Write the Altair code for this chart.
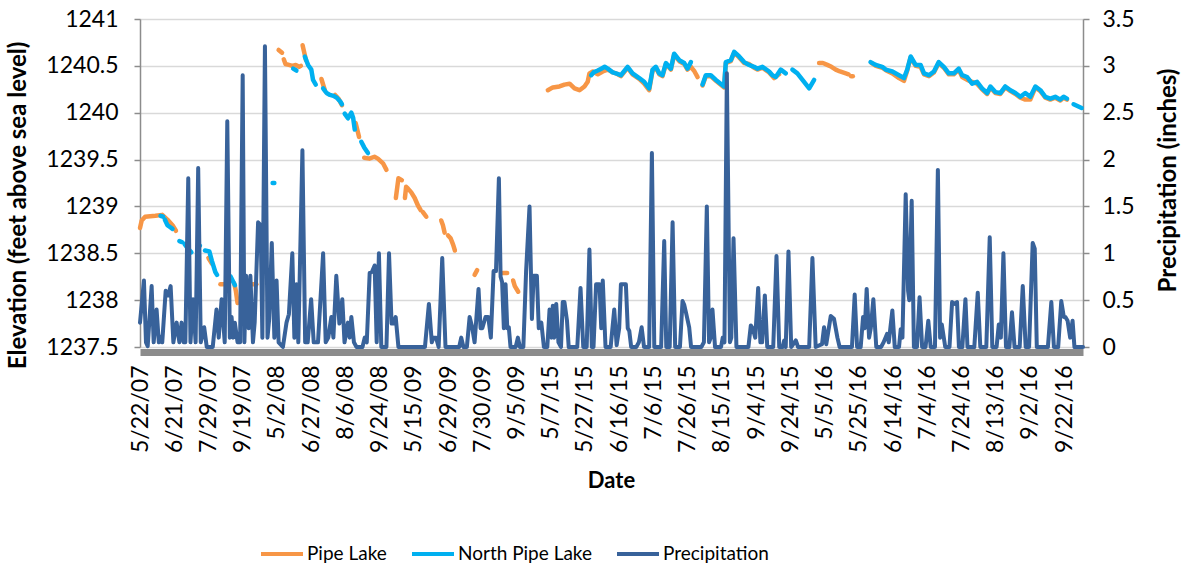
import altair as alt
import pandas as pd

# ---------------- data ----------------
x_tick_labels = ["5/22/07", "6/21/07", "7/29/07", "9/19/07", "5/2/08", "6/27/08", "8/6/08",
                 "9/24/08", "5/15/09", "6/29/09", "7/30/09", "9/5/09", "5/7/15", "5/27/15",
                 "6/16/15", "7/6/15", "7/26/15", "8/15/15", "9/4/15", "9/24/15", "5/5/16",
                 "5/25/16", "6/14/16", "7/4/16", "7/24/16", "8/13/16", "9/2/16", "9/22/16"]
label_step = 20          # categories between labelled dates
last_index = 551         # index of last category

series_names = ["Pipe Lake", "North Pipe Lake", "Precipitation"]
series_colors = ["#F79646", "#00B0F0", "#38629A"]

# (category index, elevation) ; each inner list is one unbroken run
pipe_lake_segments = [
    [(0, 1238.77), (1, 1238.85), (3, 1238.89), (9, 1238.90), (13, 1238.91), (16, 1238.86), (19, 1238.80), (21, 1238.74)],
    [(40, 1238.45), (42, 1238.39)],
    [(47, 1238.17), (50, 1238.17)],
    [(55, 1238.18), (56, 1238.10), (57, 1237.97)],
    [(64, 1238.17), (68, 1238.17)],
    [(81, 1240.67), (83, 1240.64)],
    [(84, 1240.57), (85, 1240.52), (87, 1240.51), (89, 1240.50), (91, 1240.51), (93, 1240.49), (94, 1240.50)],
    [(95, 1240.72), (96, 1240.64), (97, 1240.56)],
    [(106, 1240.36), (108, 1240.24)],
    [(114, 1240.19), (116, 1240.15), (118, 1240.08)],
    [(126, 1239.89), (128, 1239.74)],
    [(131, 1239.52), (134, 1239.51), (137, 1239.53), (139, 1239.51), (142, 1239.46), (144, 1239.39)],
    [(149.5, 1239.09), (151, 1239.30), (153, 1239.28)],
    [(154.8, 1239.09), (155.5, 1239.21), (156.6, 1239.19), (158.5, 1239.15), (160.5, 1239.09), (162.4, 1239.01), (164, 1238.96)],
    [(165.3, 1238.94), (167.3, 1238.89)],
    [(176, 1238.85), (177, 1238.80), (178, 1238.72)],
    [(180, 1238.69), (181.5, 1238.66), (183, 1238.59), (184, 1238.53)],
    [(195.5, 1238.27), (197, 1238.32)],
    [(212, 1238.29), (214.5, 1238.29)],
    [(218, 1238.21), (219, 1238.15), (221, 1238.09)],
    [(238.3, 1240.24), (241.2, 1240.27), (245.1, 1240.28), (248, 1240.30), (251, 1240.31), (253.9, 1240.26),
     (256.8, 1240.24), (259.7, 1240.28), (261.6, 1240.33), (262.6, 1240.42), (264.6, 1240.44), (267.5, 1240.41),
     (270.4, 1240.44), (273.3, 1240.46), (276.2, 1240.43), (278.1, 1240.42), (281, 1240.39), (284.9, 1240.48),
     (287.8, 1240.41), (291.7, 1240.36), (294.6, 1240.31), (297.5, 1240.24), (299.5, 1240.45), (301.4, 1240.48),
     (303.4, 1240.41), (305.3, 1240.39), (307.3, 1240.52), (310.2, 1240.46), (312.1, 1240.62), (315.1, 1240.55),
     (318, 1240.52), (319.9, 1240.46), (321.9, 1240.49), (324, 1240.44), (325.8, 1240.38)],
    [(328.7, 1240.29), (330.6, 1240.39), (333.5, 1240.39), (336.5, 1240.34), (341.3, 1240.27), (342.3, 1240.53),
     (345.2, 1240.55), (347.2, 1240.64), (350.1, 1240.59), (353, 1240.53), (355.9, 1240.52), (358.8, 1240.48),
     (360.8, 1240.46), (363.7, 1240.48), (367.6, 1240.43), (370.5, 1240.37), (373.4, 1240.41)],
    [(396.8, 1240.53), (399, 1240.53), (401.6, 1240.51), (404, 1240.49), (406.5, 1240.46), (409, 1240.44),
     (412.4, 1240.42), (414, 1240.41)],
    [(415.5, 1240.39), (416.5, 1240.39)],
    [(427.5, 1240.53), (430, 1240.50), (433.7, 1240.48), (436, 1240.45), (439.6, 1240.42), (443.5, 1240.37),
     (446.4, 1240.34), (448.3, 1240.45), (450.3, 1240.59), (453.2, 1240.50), (456.1, 1240.49), (458.1, 1240.41),
     (461, 1240.39), (463.9, 1240.43), (466.7, 1240.53), (469.7, 1240.48), (472.6, 1240.41), (475.5, 1240.41),
     (478.4, 1240.46), (480.4, 1240.38), (483.3, 1240.35), (486.2, 1240.33), (489.1, 1240.31), (492, 1240.25),
     (495, 1240.20), (496.9, 1240.27), (499.8, 1240.21), (502.7, 1240.20), (505.6, 1240.27), (508.6, 1240.23),
     (511.5, 1240.20), (514.4, 1240.16), (517.3, 1240.14), (520.2, 1240.14), (523.2, 1240.27), (526.1, 1240.23),
     (529, 1240.16), (531.9, 1240.14), (534.8, 1240.16), (537.7, 1240.13), (539.7, 1240.16), (541.6, 1240.14)],
]

north_pipe_lake_segments = [
    [(12, 1238.90), (13.5, 1238.89)],
    [(14.5, 1238.86), (16, 1238.80), (17.5, 1238.78), (19, 1238.76)],
    [(23, 1238.63), (24.5, 1238.62)],
    [(26, 1238.60), (28, 1238.55), (30, 1238.51)],
    [(34, 1238.59), (35, 1238.58)],
    [(38, 1238.53), (40.5, 1238.52), (42, 1238.42), (44, 1238.30), (45, 1238.27)],
    [(53, 1238.25), (55.5, 1238.16)],
    [(77.5, 1239.25), (78.5, 1239.25)],
    [(89.5, 1240.47), (91.4, 1240.45)],
    [(96.3, 1240.60), (98.2, 1240.51), (100.1, 1240.46), (101.1, 1240.35), (102.7, 1240.30)],
    [(107, 1240.26), (109, 1240.21), (111, 1240.19), (113, 1240.18), (115, 1240.16), (117, 1240.12), (118, 1240.09)],
    [(119.6, 1239.99), (121.5, 1239.94), (123.5, 1240.00), (124.5, 1239.95), (125.5, 1239.82)],
    [(129.3, 1239.69), (131, 1239.63), (133.2, 1239.57)],
    [(263.6, 1240.40), (265, 1240.43), (267.5, 1240.45), (269.5, 1240.47), (271.5, 1240.49), (273.3, 1240.47),
     (276.2, 1240.43), (278.1, 1240.42), (281, 1240.40), (284.9, 1240.49), (287.8, 1240.42), (291.7, 1240.37),
     (294.6, 1240.33), (297.5, 1240.26), (299.5, 1240.46), (301.4, 1240.49), (303.4, 1240.42), (305.3, 1240.40),
     (307.3, 1240.53), (310.2, 1240.47), (312.1, 1240.63), (315.1, 1240.56), (318, 1240.53), (319.9, 1240.47),
     (321.9, 1240.54)],
    [(328.7, 1240.30), (330.6, 1240.40), (333.5, 1240.40), (336.5, 1240.35), (341.3, 1240.28), (342.3, 1240.54),
     (345.2, 1240.56), (347.2, 1240.65), (350.1, 1240.60), (353, 1240.54), (355.9, 1240.51), (358.8, 1240.49),
     (360.8, 1240.47), (363.7, 1240.49), (367.6, 1240.44), (369.5, 1240.40), (371.5, 1240.38), (374.4, 1240.46),
     (377.3, 1240.42)],
    [(381.2, 1240.46), (384.1, 1240.42), (387.1, 1240.35), (391, 1240.26), (393.9, 1240.35)],
    [(426.9, 1240.54), (429.9, 1240.51), (433.7, 1240.49), (435.7, 1240.46), (439.6, 1240.44), (443.5, 1240.40),
     (446.4, 1240.37), (448.3, 1240.46), (450.3, 1240.60), (453.2, 1240.51), (456.1, 1240.51), (458.1, 1240.42),
     (461, 1240.40), (463.9, 1240.44), (466.7, 1240.54), (469.7, 1240.49), (472.6, 1240.42), (475.5, 1240.42),
     (478.4, 1240.47), (480.4, 1240.40), (483.3, 1240.38), (486.2, 1240.31), (489.1, 1240.33), (492, 1240.26),
     (495, 1240.21), (496.9, 1240.28), (499.8, 1240.22), (502.7, 1240.21), (505.6, 1240.28), (508.6, 1240.24),
     (511.5, 1240.21), (514.4, 1240.17), (517.3, 1240.21), (520.2, 1240.17), (523.2, 1240.28), (526.1, 1240.24),
     (529, 1240.17), (531.9, 1240.15), (534.8, 1240.17), (537.7, 1240.14), (539.7, 1240.17), (541.6, 1240.15)],
    [(545.5, 1240.09), (550.2, 1240.05)],
]

# (category index, inches)
precip_points = [
    (0, 0.26), (2.3, 0.71), (3.5, 0.05), (4.5, 0.01), (6.8, 0.65), (8, 0.05), (9.7, 0.40), (11, 0.05), (12, 0.11),
    (13, 0.05), (15, 0.60), (16.5, 0.55), (17.9, 0.65), (19.5, 0.05), (21.4, 0.26), (23, 0.05), (24.3, 0.26),
    (25.5, 0.05), (26.5, 0.05), (28.2, 1.80), (29.5, 0.05), (31, 0.51), (32.5, 0.05), (34, 1.91), (35.5, 0.05),
    (37.5, 0.21), (39, 0.0), (42.5, 0.0), (44.7, 0.40), (46, 0.10), (47.7, 0.51), (49.5, 0.05), (51, 2.41),
    (52.5, 0.10), (53.5, 0.32), (54.5, 0.10), (55.4, 0.26), (57, 0.05), (58.5, 0.05), (60, 2.90), (61, 0.05),
    (62, 0.76), (63.5, 0.20), (64.5, 0.76), (66, 0.05), (67, 0.26), (69, 1.33), (70.5, 1.30), (71.5, 0.10),
    (73, 3.21), (74.5, 0.10), (75.5, 0.30), (77, 1.11), (78.5, 0.10), (79.8, 0.71), (81, 0.05), (83.5, 0.0),
    (85.6, 0.26), (87, 0.35), (89, 1.0), (90.2, 0.10), (91.4, 0.67), (92.5, 0.05), (94.9, 2.10), (96.5, 0.05),
    (98, 0.05), (100, 0.51), (101.5, 0.05), (104, 0.05), (107, 1.0), (108.5, 0.05), (110, 0.10), (111.8, 0.32),
    (113, 0.10), (114.7, 0.76), (116.5, 0.25), (118.2, 0.51), (119.5, 0.05), (121.5, 0.26), (122.5, 0.10),
    (123.5, 0.32), (125, 0.05), (126.5, 0.0), (130, 0.0), (131.3, 0.10), (132.5, 0.05), (134.2, 0.79),
    (135.5, 0.80), (137.1, 0.87), (138.3, 0.05), (139.6, 1.0), (141, 0.0), (144, 0.0), (145.5, 1.0), (147, 0.25),
    (148, 0.25), (149.4, 0.32), (151, 0.0), (166.5, 0.0), (168.8, 0.46), (170.5, 0.05), (171.5, 0.10), (173, 0.10),
    (174.5, 0.0), (176.6, 0.95), (178.5, 0.0), (186.5, 0.0), (187.7, 0.10), (189, 0.0), (191, 0.0), (192.6, 0.32),
    (194, 0.22), (195.5, 0.05), (197.8, 0.62), (199, 0.20), (200, 0.20), (201.9, 0.32), (203.5, 0.32), (205, 0.10),
    (206.6, 0.81), (208, 0.81), (209.7, 1.80), (210.7, 0.75), (211.6, 0.69), (212.6, 0.20), (213.6, 0.67),
    (214.6, 0.20), (215.5, 0.21), (216.5, 0.0), (219.5, 0.0), (220.8, 0.10), (222, 0.0), (224, 0.0), (225.6, 0.81),
    (227.6, 1.50), (229, 0.30), (230, 0.76), (231.9, 0.76), (233, 0.20), (234.5, 0.26), (236, 0.0), (238, 0.0),
    (239.3, 0.40), (240.5, 0.10), (241.2, 0.44), (242, 0.10), (243.2, 0.46), (244.5, 0.05), (246, 0.0), (247, 0.48),
    (248, 0.48), (249.5, 0.28), (250.5, 0.0), (255.5, 0.0), (257.4, 0.63), (259, 0.0), (261, 0.0), (262.6, 1.04),
    (264, 0.0), (265, 0.0), (266.5, 0.67), (268.5, 0.67), (269.5, 0.20), (270.4, 0.71), (272, 0.0), (275, 0.0),
    (277.1, 0.40), (278.5, 0.02), (280, 0.20), (281, 0.67), (283.9, 0.67), (285, 0.20), (285.9, 0.17), (287, 0.0),
    (290, 0.0), (291.5, 0.05), (293.1, 0.21), (294.5, 0.0), (297.5, 0.0), (299.1, 2.07), (300.5, 0.0), (304.5, 0.0),
    (306.3, 1.13), (307.5, 0.0), (309.5, 0.0), (311.2, 1.33), (312.7, 0.0), (315.5, 0.0), (317, 0.49), (318, 0.45),
    (319, 0.37), (320.9, 0.21), (322, 0.0), (328, 0.0), (329.5, 0.05), (331.2, 1.50), (332.5, 0.05), (333.5, 0.10),
    (334.5, 0.40), (336, 0.0), (339.5, 0.0), (340.5, 0.10), (341.5, 0.05), (342.9, 2.92), (344.7, 0.05),
    (345.5, 0.10), (346.8, 1.16), (348.5, 0.0), (355.5, 0.0), (356.9, 0.23), (358, 0.20), (359.5, 0.10),
    (361.2, 0.63), (362.5, 0.05), (363.5, 0.05), (365.1, 0.55), (366.5, 0.0), (370, 0.0), (371.9, 0.97),
    (373.5, 0.0), (375.5, 0.0), (376.4, 0.07), (377.3, 0.0), (378.9, 1.02), (380.5, 0.0), (383.2, 0.07),
    (384.5, 0.0), (391, 0.0), (392.9, 0.95), (394.8, 0.0), (398.5, 0.03), (399.7, 0.21), (401, 0.03), (403.6, 0.33),
    (405.5, 0.30), (407.5, 0.10), (408.8, 0.0), (416, 0.0), (417.6, 0.56), (419, 0.0), (421.1, 0.0), (422.5, 0.32),
    (423.5, 0.20), (424.6, 0.62), (426, 0.10), (427, 0.20), (428.5, 0.51), (430.2, 0.0), (433, 0.0), (434.5, 0.05),
    (436.5, 0.14), (437.5, 0.05), (439.6, 0.39), (441, 0.0), (443.5, 0.0), (444.5, 0.19), (445.5, 0.10),
    (447.4, 1.63), (448.8, 0.60), (449.5, 0.50), (450.9, 1.56), (452.2, 0.0), (454, 0.0), (455.5, 0.53), (457, 0.0),
    (459, 0.0), (460.6, 0.28), (462, 0.0), (464.5, 0.0), (466.2, 1.89), (467.5, 0.10), (468.5, 0.24), (470.5, 0.0),
    (473, 0.0), (474.5, 0.48), (476, 0.46), (477.4, 0.48), (478.5, 0.0), (480.5, 0.0), (482.3, 0.51), (483.5, 0.0),
    (487.5, 0.0), (489.5, 0.58), (491, 0.0), (494.5, 0.0), (496.5, 1.17), (498, 0.0), (500.5, 0.0), (501.8, 0.24),
    (503, 0.10), (504.5, 1.0), (506, 0.0), (508, 0.0), (509.5, 0.37), (511, 0.0), (514, 0.0), (515.8, 0.65),
    (517.5, 0.0), (519.5, 0.0), (521.6, 1.11), (522.8, 1.05), (524, 0.0), (530.5, 0.0), (532.5, 0.48), (534, 0.0),
    (536.5, 0.0), (538.3, 0.49), (539.8, 0.32), (540.7, 0.32), (542, 0.28), (543.5, 0.10), (544.9, 0.28),
    (546, 0.0), (551, 0.0),
]

elev_ticks = [1237.5, 1238, 1238.5, 1239, 1239.5, 1240, 1240.5, 1241]
precip_ticks = [0, 0.5, 1, 1.5, 2, 2.5, 3, 3.5]

# ---------------- tables ----------------
def lake_table(name, segments):
    rows = []
    for k, seg in enumerate(segments):
        for i, v in seg:
            rows.append({"series": name, "seg": f"{name}-{k}", "idx": i, "elev": v})
    return pd.DataFrame(rows)

pipe_df = lake_table("Pipe Lake", pipe_lake_segments)
north_df = lake_table("North Pipe Lake", north_pipe_lake_segments)
precip_df = pd.DataFrame({"series": "Precipitation",
                          "idx": [p[0] for p in precip_points],
                          "precip": [p[1] for p in precip_points]})

FONT = "Lato"
label_expr = "[" + ",".join(f"'{t}'" for t in x_tick_labels) + f"][round(datum.value/{label_step})]"

color_enc = alt.Color(
    "series:N",
    scale=alt.Scale(domain=series_names, range=series_colors),
    legend=alt.Legend(title=None, orient="none", direction="horizontal", legendX=119, legendY=512,
                      symbolType="stroke", symbolStrokeWidth=4, symbolSize=1764,
                      labelFontSize=19, labelFont=FONT, labelColor="#000000",
                      columnPadding=17, labelOffset=2),
)

x_axis = alt.Axis(values=list(range(0, last_index, label_step)), labelExpr=label_expr, labelAngle=-90,
                  labelFontSize=23, labelFont=FONT, labelColor="#000000", labelPadding=13,
                  ticks=False, grid=False, domainColor="#8C8C8C", domainWidth=7, offset=5,
                  title="Date", titleFont=FONT, titleFontSize=22, titleFontWeight="bold",
                  titleColor="#000000", titleX=471, titleY=128, titleBaseline="middle",
                  titleAlign="center", labelOverlap=False)
x_scale = alt.Scale(domain=[0, last_index], nice=False, zero=False)

def x_enc():
    return alt.X("idx:Q", scale=x_scale, axis=x_axis)

y_elev = alt.Y(
    "elev:Q",
    scale=alt.Scale(domain=[1237.5, 1241], nice=False, zero=False),
    axis=alt.Axis(values=elev_ticks, format="~f", labelFontSize=23, labelFont=FONT, labelColor="#000000",
                  labelPadding=16, tickSize=6, tickColor="#8C8C8C", domainColor="#8C8C8C",
                  domainWidth=1.5, tickWidth=1.5, grid=True, gridColor="#D9D9D9", gridWidth=1.5,
                  title="Elevation (feet above sea level)", titleFont=FONT, titleFontSize=24,
                  titleFontWeight="bold", titleColor="#000000", titleAngle=270, titleX=-122,
                  titleY=186, titleBaseline="middle", titleAlign="center"),
)

pipe = alt.Chart(pipe_df).mark_line(strokeWidth=4.5, strokeCap="round", strokeJoin="round").encode(
    x=x_enc(), y=y_elev, color=color_enc, detail="seg:N", order="idx:Q")

north = alt.Chart(north_df).mark_line(strokeWidth=4.5, strokeCap="round", strokeJoin="round").encode(
    x=x_enc(), y=y_elev, color=color_enc, detail="seg:N", order="idx:Q")

precip = alt.Chart(precip_df).mark_line(strokeWidth=4, strokeJoin="round", strokeCap="round").encode(
    x=x_enc(),
    y=alt.Y("precip:Q", scale=alt.Scale(domain=[0, 3.5], nice=False),
            axis=alt.Axis(orient="right", values=precip_ticks, format="~f", labelFontSize=23,
                          labelFont=FONT, labelColor="#000000", labelPadding=13, tickSize=6,
                          tickColor="#8C8C8C", tickWidth=1.5, domainColor="#8C8C8C", domainWidth=1.5,
                          grid=False, title="Precipitation (inches)", titleFont=FONT, titleFontSize=24,
                          titleFontWeight="bold", titleColor="#000000", titleAngle=270, titleX=85,
                          titleY=161, titleBaseline="middle", titleAlign="center")),
    color=color_enc, order="idx:Q")

lakes = alt.layer(pipe, north)
chart = alt.layer(lakes, precip).resolve_scale(y="independent").properties(
    width=943, height=328,
    padding={"left": 140, "top": 19, "right": 100, "bottom": 219},
    autosize=alt.AutoSizeParams(type="none"),
).configure_view(stroke=None).configure(background="white")

chart.save("out.html", embed_options={"renderer": "svg", "actions": False})
